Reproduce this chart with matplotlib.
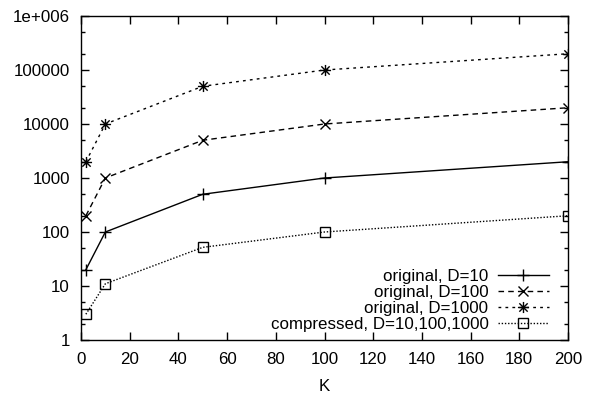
import matplotlib
matplotlib.use("Agg")
import matplotlib.pyplot as plt
from matplotlib.path import Path
from matplotlib.ticker import FixedLocator, FixedFormatter, NullFormatter

plt.rcParams['font.family'] = ['Liberation Sans', 'DejaVu Sans']

K = [2, 10, 50, 100, 200]
orig_d10 = [20, 100, 500, 1000, 2000]
orig_d100 = [200, 1000, 5000, 10000, 20000]
orig_d1000 = [2000, 10000, 50000, 100000, 200000]
compressed = [3, 11, 52, 100, 200]
labels = ["original, D=10", "original, D=100", "original, D=1000",
          "compressed, D=10,100,1000"]
ytick_vals = [1, 10, 100, 1000, 10000, 100000, 1000000]
ytick_labels = ["1", "10", "100", "1000", "10000", "100000", "1e+006"]
xtick_vals = list(range(0, 201, 20))

# star marker: + and x overlaid
star = Path([(-1, 0), (1, 0), (0, -1), (0, 1),
             (-0.75, -0.75), (0.75, 0.75), (-0.75, 0.75), (0.75, -0.75)],
            [Path.MOVETO, Path.LINETO, Path.MOVETO, Path.LINETO,
             Path.MOVETO, Path.LINETO, Path.MOVETO, Path.LINETO])

fig = plt.figure(figsize=(5.91, 3.93), dpi=100)
ax = fig.add_axes([81/591, 1-340/393, (568-81)/591, (340-16)/393])

ax.plot(K, orig_d10, color='black', lw=1.0, ls='-', marker='+', ms=8,
        mew=1.0, label=labels[0])
ax.plot(K, orig_d100, color='black', lw=1.0, ls=(0, (4, 3)), marker='x',
        ms=6.5, mew=1.0, label=labels[1])
ax.plot(K, orig_d1000, color='black', lw=1.0, ls=(0, (2, 3)), marker=star,
        ms=8, mew=1.0, label=labels[2])
ax.plot(K, compressed, color='black', lw=1.0, ls=(0, (1, 1.3)), marker='s',
        ms=6.5, mew=1.0, mfc='none', label=labels[3])

ax.set_yscale('log')
ax.set_ylim(1, 1e6)
ax.set_xlim(0, 200)
ax.yaxis.set_major_locator(FixedLocator(ytick_vals))
ax.yaxis.set_major_formatter(FixedFormatter(ytick_labels))
minors = [m * 10**e for e in range(0, 6) for m in (2, 5)]
ax.yaxis.set_minor_locator(FixedLocator(minors))
ax.yaxis.set_minor_formatter(NullFormatter())
ax.xaxis.set_major_locator(FixedLocator(xtick_vals))
ax.xaxis.set_minor_locator(FixedLocator([]))

ax.tick_params(which='both', direction='in', top=True, right=True,
               labelsize=12.2, width=1.0, colors='black')
ax.tick_params(which='major', length=6)
ax.tick_params(which='minor', length=3)
ax.tick_params(axis='x', pad=9)
ax.tick_params(axis='y', pad=8)
for s in ax.spines.values():
    s.set_linewidth(1.0)

ax.set_xlabel("K", fontsize=12.2, labelpad=8)

leg = ax.legend(loc='lower right', frameon=False, markerfirst=False,
                fontsize=12.2, handlelength=3.0, handletextpad=0.55,
                labelspacing=0.05, borderaxespad=0.0,
                bbox_to_anchor=(0.974, 0.005))

fig.savefig("out.png", dpi=100)
